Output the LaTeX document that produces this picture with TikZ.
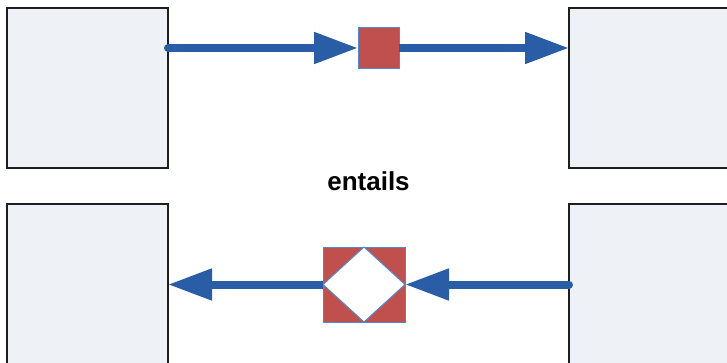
\documentclass[tikz,border=0pt]{standalone}
\usepackage{fontspec}
\setmainfont{Liberation Sans}
\usetikzlibrary{positioning, arrows.meta}

\begin{document}
\begin{tikzpicture}[
    x=1pt, y=-1pt,
    node distance = 36pt and 401pt,
    box/.style = {rectangle, draw=edgegray, fill=boxfill, line width=1.5pt, minimum width=161pt, minimum height=160pt, inner sep=0pt, outer sep=0pt},
    marker/.style = {rectangle, draw=markerblue, fill=markerred, line width=1pt, inner sep=0pt, outer sep=0pt},
    inset/.style = {draw=markerblue, fill=white, line width=1pt, line join=miter},
    arrow/.style = {draw=flowblue, line width=8pt, line cap=round, -{Triangle[length=44pt, width=30pt]}},
    tag/.style = {font=\bfseries\fontsize{26}{30}\selectfont, inner sep=0pt}
]
    % Colors definition
    \definecolor{boxfill}{RGB}{238, 241, 246}
    \definecolor{edgegray}{RGB}{30, 30, 30}
    \definecolor{flowblue}{RGB}{41, 94, 166}
    \definecolor{markerred}{RGB}{192, 80, 77}
    \definecolor{markerblue}{RGB}{80, 135, 205}

    \path[use as bounding box, clip] (0,0) rectangle (727,363);

    % Nodes
    \node (tl) [box] at (87.5,88) {};
    \node (tr) [box, right=of tl] {};
    \node (bl) [box, below=of tl] {};
    \node (br) [box, right=of bl] {};

    \node (s1) [marker, minimum width=41pt, minimum height=41pt] at (378.5,48) {};
    \node (s2) [marker, minimum width=82pt, minimum height=75pt] at (364,284.5) {};
    \draw [inset] (s2.north) -- (s2.east) -- (s2.south) -- (s2.west) -- cycle;

    \node (entails) [tag] at (368.5,181) {entails};

    % Connections
    \draw [arrow] (s1.west -| tl.east) -- (s1.west);
    \draw [arrow, line cap=butt] (s1.east) -- (s1.east -| tr.west);
    \draw [arrow] (s2.east -| br.west) -- (s2.east);
    \draw [arrow, line cap=butt] (s2.west) -- (s2.west -| bl.east);

\end{tikzpicture}
\end{document}
